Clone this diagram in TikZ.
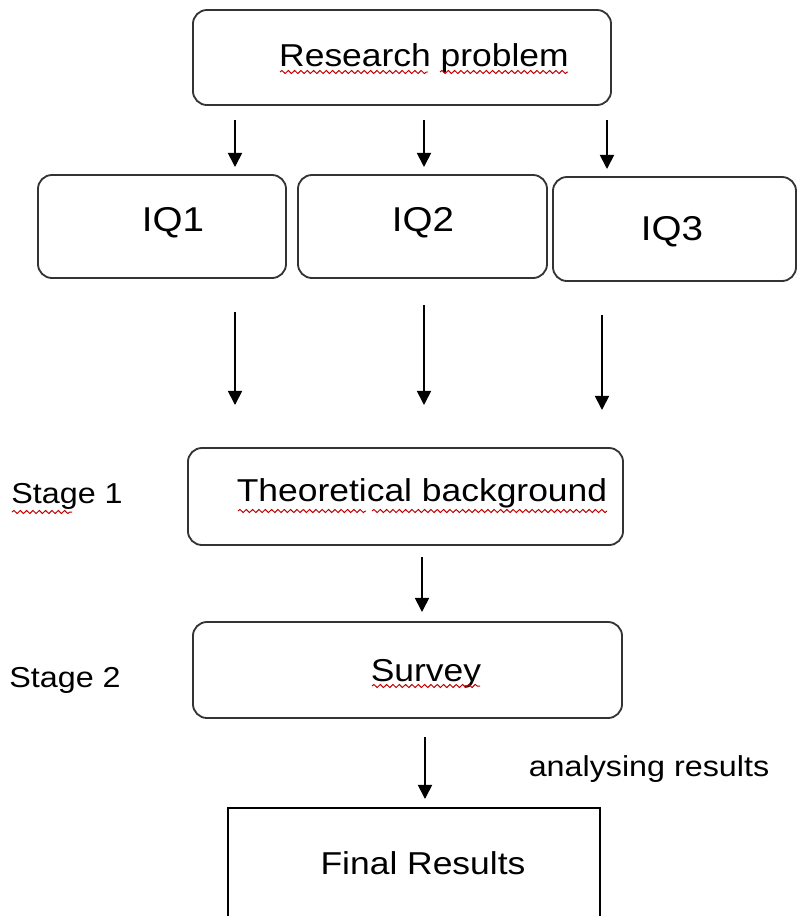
\documentclass[tikz,border=0pt]{standalone}
\usepackage{fontspec}
\setmainfont{Liberation Sans}[FakeStretch=1.12]
\usepackage{tikz}
\usetikzlibrary{arrows.meta, decorations.pathmorphing}

\begin{document}
\begin{tikzpicture}[x=0.025cm, y=-0.025cm,
    box/.style={draw=black!80, line width=1.3pt, rounded corners=10pt},
    txt/.style={inner sep=0pt, anchor=base, font=\fontsize{22.5}{27}\selectfont},
    side/.style={inner sep=0pt, anchor=base, font=\fontsize{20.5}{25}\selectfont},
    arr/.style={line width=1.2pt, -{Triangle[length=10pt, width=10pt]}},
    squig/.style={red!75!black, line width=0.7pt, decorate,
        decoration={snake, amplitude=1.1pt, segment length=4.5pt}}]
    \clip (0,0) rectangle (800,916);

    % boxes
    \node[box, minimum width=10.45cm, minimum height=2.375cm] (rp) at (402,57.5) {};
    \node[box, minimum width=6.2cm, minimum height=2.575cm] (iq1) at (162,226.5) {};
    \node[box, minimum width=6.225cm, minimum height=2.575cm] (iq2) at (422.5,226.5) {};
    \node[box, minimum width=6.075cm, minimum height=2.6cm] (iq3) at (674.5,229) {};
    \node[box, minimum width=10.875cm, minimum height=2.425cm] (tb) at (405.5,496.5) {};
    \node[box, minimum width=10.725cm, minimum height=2.4cm] (sv) at (407.5,670) {};
    \node[draw=black, line width=1.4pt, minimum width=9.3cm, minimum height=2.75cm] (fr) at (414,863) {};

    % texts
    \node[txt] (rpt) at (424,66) {Research problem};
    \node[txt, font=\fontsize{24.5}{29}\selectfont] (iq1t) at (173,231) {IQ1};
    \node[txt, font=\fontsize{24.5}{29}\selectfont] (iq2t) at (423,231) {IQ2};
    \node[txt, font=\fontsize{24.5}{29}\selectfont] (iq3t) at (672,240) {IQ3};
    \node[txt] (tbt) at (422,501) {Theoretical background};
    \node[txt] (svt) at (426,681) {Survey};
    \node[txt] (frt) at (423,874) {Final Results};
    \node[side] (st1) at (67,503) {Stage 1};
    \node[side] (st2) at (65,687) {Stage 2};
    \node[side] (an) at (649,776) {analysing results};

    % arrows
    \foreach \n/\x/\ya/\yb in {a1/235/120/167, a2/424/120/167, a3/607/120/169,
        b1/235/312/405, b2/424/305/405, b3/602/315/410,
        c1/422/557/612, d1/425/737/799}
        \draw[arr] (\x,\ya) coordinate (\n s) -- (\x,\yb) coordinate (\n e);

    % spelling marks
    \draw[squig] (280,72) -- (428,72);
    \draw[squig] (440,72) -- (568,72);
    \draw[squig] (12,512) -- (72,512);
    \draw[squig] (238,511) -- (366,511);
    \draw[squig] (372,511) -- (607,511);
    \draw[squig] (372,686) -- (480,686);
\end{tikzpicture}
\end{document}
